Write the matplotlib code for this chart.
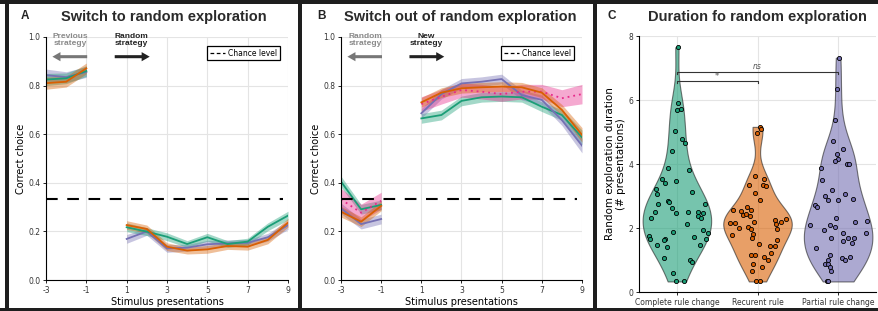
import numpy as np
import matplotlib

matplotlib.use("Agg")
import matplotlib.pyplot as plt
from matplotlib.lines import Line2D
from matplotlib.patches import Rectangle

plt.rcParams["axes.unicode_minus"] = False

W, H = 879, 311
GREEN = "#1b9e77"
ORANGE = "#d95f02"
PURPLE = "#7570b3"
PINK = "#e7298a"
TITLE_FONT = ["Liberation Sans", "DejaVu Sans"]

# ---- data -----------------------------------------------------------------
x_pre = [-3, -2, -1]
x_post = [1, 2, 3, 4, 5, 6, 7, 8, 9]
x_ticks = [-3, -1, 1, 3, 5, 7, 9]
chance = 1 / 3

# panel A: switch to random exploration
a_green_pre = [0.825, 0.83, 0.86]
a_green_post = [0.217, 0.199, 0.178, 0.148, 0.176, 0.148, 0.158, 0.219, 0.265]
a_orange_pre = [0.81, 0.816, 0.871]
a_orange_post = [0.226, 0.21, 0.137, 0.121, 0.126, 0.14, 0.137, 0.165, 0.236]
a_purple_pre = [0.843, 0.835, 0.856]
a_purple_post = [0.169, 0.2, 0.13, 0.133, 0.147, 0.151, 0.153, 0.176, 0.226]
a_sem_pre = [0.025, 0.022, 0.022]
a_sem_post = [0.018, 0.016, 0.016, 0.014, 0.016, 0.014, 0.014, 0.016, 0.018]

# panel B: switch out of random exploration
b_green_pre = [0.405, 0.291, 0.309]
b_green_post = [0.665, 0.679, 0.737, 0.752, 0.755, 0.752, 0.713, 0.679, 0.587]
b_orange_pre = [0.281, 0.24, 0.305]
b_orange_post = [0.731, 0.771, 0.789, 0.793, 0.796, 0.793, 0.771, 0.70, 0.597]
b_purple_pre = [0.295, 0.23, 0.251]
b_purple_post = [0.686, 0.765, 0.809, 0.816, 0.827, 0.761, 0.741, 0.658, 0.553]
b_pink_pre = [0.332, 0.277, 0.326]
b_pink_post = [0.724, 0.754, 0.782, 0.775, 0.765, 0.775, 0.775, 0.748, 0.765]
b_sem_pre = [0.022, 0.02, 0.02]
b_sem_post = [0.02, 0.02, 0.02, 0.02, 0.02, 0.02, 0.02, 0.022, 0.03]
b_pink_sem_pre = [0.045, 0.035, 0.035]
b_pink_sem_post = [0.03, 0.03, 0.03, 0.03, 0.03, 0.03, 0.03, 0.035, 0.04]

# panel C: duration of random exploration
c_labels = ["Complete rule change", "Recurent rule", "Partial rule change"]
complete_y = [7.65, 5.91, 5.68, 5.71, 5.03, 4.77, 4.67, 4.41, 3.89, 3.82, 3.54, 3.41,
              3.48, 3.22, 3.07, 3.11, 2.84, 2.82, 2.75, 2.76, 2.61, 2.48, 2.49, 2.49,
              2.50, 2.47, 2.37, 2.30, 2.30, 2.14, 1.93, 1.88, 1.83, 1.75, 1.67, 1.73,
              1.67, 1.65, 1.62, 1.46, 1.41, 1.47, 1.06, 1.00, 0.94, 0.59, 0.33, 0.33]
complete_jit = [0.017, 0.017, -0.004, 0.046, -0.025, 0.058, 0.099, -0.058, -0.116, 0.149,
                -0.182, -0.149, -0.012, -0.253, -0.244, 0.182, -0.108, -0.1, -0.232, 0.348,
                -0.058, -0.012, 0.133, -0.273, 0.265, 0.327, 0.265, 0.298, -0.323, 0.128,
                0.319, -0.046, 0.389, -0.344, -0.335, 0.211, 0.36, -0.149, -0.161, -0.244,
                -0.12, 0.286, -0.157, 0.161, 0.19, -0.046, -0.012, 0.087]
recurent_y = [5.16, 5.10, 4.98, 3.61, 3.54, 3.33, 3.33, 3.30, 3.10, 2.86, 2.55, 2.52,
              2.66, 2.55, 2.40, 2.44, 2.37, 2.29, 2.24, 2.18, 2.16, 2.15, 2.20, 2.13,
              2.00, 2.03, 1.98, 1.98, 1.82, 1.77, 1.69, 1.61, 1.49, 1.44, 1.44, 1.23,
              1.15, 1.15, 1.08, 1.00, 0.89, 0.79, 0.66, 0.33, 0.33]
recurent_jit = [0.025, 0.046, -0.008, -0.037, 0.075, -0.108, 0.066, 0.108, -0.037, 0.025,
                -0.306, -0.203, -0.133, -0.079, -0.182, -0.141, -0.099, 0.356, 0.211, 0.286,
                -0.34, -0.277, -0.046, 0.232, -0.232, -0.12, -0.079, 0.24, -0.05, -0.315,
                -0.066, 0.24, 0.017, 0.149, 0.219, 0.17, -0.079, -0.037, 0.075, 0.128,
                -0.05, 0.054, -0.066, -0.017, 0.033]
partial_y = [7.32, 6.33, 5.37, 4.72, 4.32, 4.46, 4.15, 4.08, 4.00, 4.00, 3.89, 3.49,
             3.18, 2.99, 2.89, 2.89, 3.07, 2.91, 2.73, 2.66, 2.30, 2.20, 2.21, 2.08,
             2.09, 2.04, 1.93, 1.85, 1.83, 1.70, 1.68, 1.68, 1.59, 1.52, 1.37, 1.16,
             0.99, 1.06, 1.00, 1.08, 0.89, 0.88, 0.79, 0.66, 0.33, 0.33]
partial_jit = [0.017, -0.017, -0.037, -0.058, -0.017, 0.058, 0.004, -0.037, 0.108, 0.141,
               -0.215, -0.203, -0.079, -0.161, -0.12, 0.004, 0.087, 0.182, -0.286, -0.265,
               -0.025, 0.211, 0.356, -0.348, -0.099, -0.037, -0.174, 0.066, 0.348, -0.087,
               0.12, 0.203, 0.058, 0.178, -0.273, -0.099, -0.12, 0.054, 0.087, 0.149,
               -0.161, -0.128, -0.099, -0.091, -0.141, -0.12]


def fig_rect(x0, y0, x1, y1):
    """pixel box (top-left origin) -> figure fraction rect"""
    return [x0 / W, 1 - y1 / H, (x1 - x0) / W, (y1 - y0) / H]


def style_axes(ax):
    for s in ("top", "right"):
        ax.spines[s].set_visible(False)
    for s in ("left", "bottom"):
        ax.spines[s].set_linewidth(0.8)
    ax.grid(True, color="#e4e4e4", lw=0.8)
    ax.set_axisbelow(True)
    ax.tick_params(labelsize=5.5, length=2.5, width=0.6, pad=1.5, labelcolor="#333")


def draw_series(ax, color, pre, pre_err, post, post_err, dotted=False):
    for xs, ys, es in ((x_pre, pre, pre_err), (x_post, post, post_err)):
        ys = np.asarray(ys)
        es = np.asarray(es)
        ax.fill_between(xs, ys - es, ys + es, color=color, alpha=0.4, lw=0)
        ax.plot(xs, ys, color=color, lw=1.3, ls=(0, (1, 2.2)) if dotted else "-")


def line_panel(ax, left_text, left_color, right_text):
    ax.plot([-3, 8.75], [chance, chance], color="black", lw=1.5, ls=(0, (5.6, 4.6)))
    ax.set_xlim(-3, 9)
    ax.set_ylim(0, 1)
    ax.set_xticks(x_ticks)
    ax.set_yticks([0, 0.2, 0.4, 0.6, 0.8, 1.0])
    ax.set_yticklabels(["0.0", "0.2", "0.4", "0.6", "0.8", "1.0"])
    ax.set_xlabel("Stimulus presentations", fontsize=7, labelpad=2)
    ax.set_ylabel("Correct choice", fontsize=7, labelpad=2)
    style_axes(ax)

    arrow = "simple,head_length=0.58,head_width=0.66,tail_width=0.22"
    ax.annotate("", xy=(-2.82, 0.919), xytext=(-0.82, 0.919),
                arrowprops=dict(arrowstyle=arrow, color="#777777", lw=0, mutation_scale=10))
    ax.annotate("", xy=(2.28, 0.919), xytext=(0.27, 0.919),
                arrowprops=dict(arrowstyle=arrow, color="#222222", lw=0, mutation_scale=10))
    ax.text(-1.8, 0.988, left_text, color=left_color, fontsize=6, fontweight="bold",
            family=TITLE_FONT, ha="center", va="center", linespacing=1.05)
    ax.text(1.25, 0.988, right_text, color="#222222", fontsize=6, fontweight="bold",
            family=TITLE_FONT, ha="center", va="center", linespacing=1.05)

    handle = Line2D([], [], color="black", lw=0.9, ls=(0, (3, 2)))
    leg = ax.legend([handle], ["Chance level"], loc="upper right",
                    bbox_to_anchor=(0.967, 0.963), fontsize=5.5, fancybox=False,
                    edgecolor="black", framealpha=1, borderpad=0.35, handlelength=2.0,
                    handletextpad=0.4, borderaxespad=0)
    leg.get_frame().set_linewidth(0.9)


fig = plt.figure(figsize=(W / 100, H / 100), dpi=100)
fig.patch.set_facecolor("white")

# ---- panel A ----
ax_a = fig.add_axes(fig_rect(46, 37, 288, 280))
draw_series(ax_a, PURPLE, a_purple_pre, a_sem_pre, a_purple_post, a_sem_post)
draw_series(ax_a, GREEN, a_green_pre, a_sem_pre, a_green_post, a_sem_post)
draw_series(ax_a, ORANGE, a_orange_pre, a_sem_pre, a_orange_post, a_sem_post)
line_panel(ax_a, "Previous\nstrategy", "#8a8a8a", "Random\nstrategy")

# ---- panel B ----
ax_b = fig.add_axes(fig_rect(341, 37, 582, 280))
draw_series(ax_b, GREEN, b_green_pre, b_sem_pre, b_green_post, b_sem_post)
draw_series(ax_b, PURPLE, b_purple_pre, b_sem_pre, b_purple_post, b_sem_post)
draw_series(ax_b, PINK, b_pink_pre, b_pink_sem_pre, b_pink_post, b_pink_sem_post, dotted=True)
draw_series(ax_b, ORANGE, b_orange_pre, b_sem_pre, b_orange_post, b_sem_post)
line_panel(ax_b, "Random\nstrategy", "#8a8a8a", "New\nstrategy")

# ---- panel C ----
ax_c = fig.add_axes(fig_rect(639, 36, 876, 292))
groups = [complete_y, recurent_y, partial_y]
jitters = [complete_jit, recurent_jit, partial_jit]
colors = [GREEN, ORANGE, PURPLE]
parts = ax_c.violinplot(groups, positions=[1, 2, 3], widths=0.85, showextrema=False,
                        bw_method=0.4)
for body, color in zip(parts["bodies"], colors):
    body.set_facecolor(color)
    body.set_edgecolor("#222222")
    body.set_linewidth(0.8)
    body.set_alpha(0.6)
for i, (ys, jit, color) in enumerate(zip(groups, jitters, colors)):
    ax_c.scatter(i + 1 + np.asarray(jit), ys, s=9, color=color, edgecolors="black",
                 linewidths=0.6, zorder=3)

ax_c.plot([1, 1, 3, 3], [6.82, 6.87, 6.87, 6.82], color="#333333", lw=0.8)
ax_c.plot([1, 1, 2, 2], [6.53, 6.58, 6.58, 6.53], color="#333333", lw=0.8)
ax_c.text(2, 6.91, "ns", style="italic", fontsize=5.5, color="#555555", ha="center", va="bottom")
ax_c.text(1.5, 6.6, "*", fontsize=6, color="#555555", ha="center", va="bottom")

ax_c.set_xlim(0.53, 3.47)
ax_c.set_ylim(0, 8)
ax_c.set_xticks([1, 2, 3])
ax_c.set_xticklabels(c_labels)
ax_c.set_yticks([0, 2, 4, 6, 8])
ax_c.set_ylabel("Random exploration duration\n(# presentations)", fontsize=7.5,
                linespacing=1.1)
ax_c.yaxis.set_label_coords(-0.055, 0.5)
style_axes(ax_c)

# ---- titles and panel letters ----
for x, letter, title_x, title in ((25, "A", 164, "Switch to random exploration"),
                                  (322, "B", 460, "Switch out of random exploration"),
                                  (612, "C", 757, "Duration fo random exploration")):
    fig.text(x / W, 1 - 16 / H, letter, fontsize=8.5, fontweight="bold", family=TITLE_FONT,
             color="#222222", ha="center", va="center")
    fig.text(title_x / W, 1 - 17 / H, title, fontsize=10.5, fontweight="bold",
             family=TITLE_FONT, color="#2a2a2a", ha="center", va="center")

# ---- panel frames ----
dark = "#1e1e1e"
for x0, y0, x1, y1 in ((0, 0, W, 3.5), (0, 307.5, W, H), (5, 0, 9.5, H),
                       (298, 0, 302, H), (592.5, 0, 596.5, H)):
    fig.add_artist(Rectangle((x0 / W, 1 - y1 / H), (x1 - x0) / W, (y1 - y0) / H,
                             transform=fig.transFigure, color=dark, lw=0))

fig.savefig("out.png", dpi=100)
